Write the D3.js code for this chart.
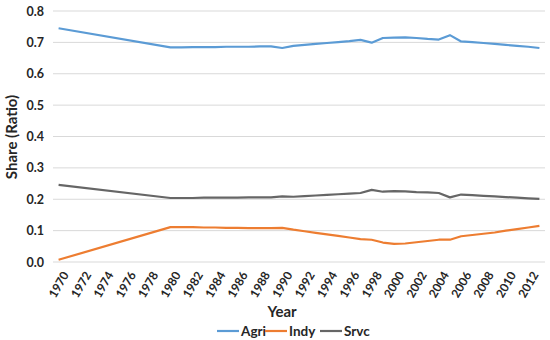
<!DOCTYPE html>
<html>
<head>
<meta charset="utf-8">
<script src="https://cdn.jsdelivr.net/npm/d3@7"></script>
<style>
  body { margin: 0; background: #fff; }
  svg text { font-family: Lato, "Open Sans", sans-serif; }
</style>
</head>
<body>
<svg id="chart" width="550" height="340"></svg>
<script>
// years with data (1970 then annual from 1980)
const years = [1970, 1980, 1981, 1982, 1983, 1984, 1985, 1986, 1987, 1988, 1989,
  1990, 1991, 1992, 1993, 1994, 1995, 1996, 1997, 1998, 1999,
  2000, 2001, 2002, 2003, 2004, 2005, 2006, 2007, 2008, 2009,
  2010, 2011, 2012, 2013];

const agri = [0.745, 0.684, 0.684, 0.685, 0.685, 0.685, 0.686, 0.686, 0.686, 0.687, 0.687,
  0.682, 0.689, 0.692, 0.695, 0.698, 0.701, 0.704, 0.708, 0.699, 0.714,
  0.715, 0.716, 0.714, 0.711, 0.709, 0.723, 0.703, 0.701, 0.698, 0.695,
  0.692, 0.689, 0.686, 0.682];

const indy = [0.007, 0.111, 0.111, 0.111, 0.110, 0.110, 0.109, 0.109, 0.108, 0.108, 0.108,
  0.109, 0.103, 0.098, 0.093, 0.088, 0.083, 0.078, 0.073, 0.071, 0.062,
  0.058, 0.059, 0.063, 0.067, 0.071, 0.071, 0.082, 0.086, 0.090, 0.094,
  0.100, 0.105, 0.110, 0.115];

const srvc = [0.246, 0.204, 0.204, 0.204, 0.205, 0.205, 0.205, 0.205, 0.206, 0.206, 0.206,
  0.209, 0.208, 0.210, 0.212, 0.214, 0.216, 0.218, 0.220, 0.230, 0.224,
  0.226, 0.225, 0.223, 0.222, 0.220, 0.206, 0.215, 0.213, 0.211, 0.209,
  0.207, 0.205, 0.203, 0.201];

const seriesNames = ["Agri", "Indy", "Srvc"];
const seriesColors = ["#5b9bd5", "#ed7d31", "#666666"];
const xTicks = d3.range(1970, 2013, 2);
const yTicks = [0, 0.1, 0.2, 0.3, 0.4, 0.5, 0.6, 0.7, 0.8];

const svg = d3.select("#chart");
const margin = {left: 53, right: 5, top: 11, bottom: 78};
const width = 550, height = 340;

const x = d3.scaleLinear()
  .domain([1969.5, 2013.5])
  .range([margin.left, width - margin.right]);

const y = d3.scaleLinear()
  .domain([0, 0.8])
  .range([height - margin.bottom, margin.top]);

// gridlines
svg.append("g")
  .selectAll("line")
  .data(yTicks)
  .join("line")
    .attr("x1", x.range()[0])
    .attr("x2", x.range()[1])
    .attr("y1", d => y(d))
    .attr("y2", d => y(d))
    .attr("stroke", "#d9d9d9")
    .attr("stroke-width", 1);

// y axis labels
const yAxis = svg.append("g")
  .attr("transform", `translate(${margin.left},0)`)
  .call(d3.axisLeft(y).tickValues(yTicks).tickFormat(d3.format(".1f")).tickSize(0).tickPadding(9));
yAxis.select(".domain").remove();
yAxis.selectAll("text")
  .attr("fill", "#262626")
  .style("font-size", "12.5px")
  .style("font-weight", "bold");

// x axis labels
const xAxis = svg.append("g")
  .attr("transform", `translate(0,${y(0)})`)
  .call(d3.axisBottom(x).tickValues(xTicks).tickFormat(d3.format("d")).tickSize(0));
xAxis.select(".domain").remove();
xAxis.selectAll("text")
  .attr("fill", "#262626")
  .style("font-size", "12px")
  .style("font-weight", "bold")
  .attr("text-anchor", "end")
  .attr("dy", "0.35em")
  .attr("transform", "translate(4,9) rotate(-60)");

// lines
const allSeries = [agri, indy, srvc];
const line = d3.line()
  .x((d, i) => x(years[i]))
  .y(d => y(d));

svg.append("g")
  .selectAll("path")
  .data(allSeries)
  .join("path")
    .attr("d", d => line(d))
    .attr("fill", "none")
    .attr("stroke", (d, i) => seriesColors[i])
    .attr("stroke-width", 2.2)
    .attr("stroke-linejoin", "round");

// axis titles
svg.append("text")
  .attr("x", 282)
  .attr("y", 317)
  .attr("text-anchor", "middle")
  .attr("fill", "#262626")
  .style("font-size", "15px")
  .style("font-weight", "bold")
  .text("Year");

svg.append("text")
  .attr("transform", "translate(17,137) rotate(-90)")
  .attr("text-anchor", "middle")
  .attr("fill", "#262626")
  .style("font-size", "15px")
  .style("font-weight", "bold")
  .text("Share (Ratio)");

// legend
const legendX = [217, 265, 320];
const legend = svg.append("g")
  .selectAll("g")
  .data(seriesNames)
  .join("g")
    .attr("transform", (d, i) => `translate(${legendX[i]},331)`);
legend.append("line")
  .attr("x1", 0).attr("x2", 22)
  .attr("stroke", (d, i) => seriesColors[i])
  .attr("stroke-width", 2.2);
legend.append("text")
  .attr("x", 24)
  .attr("dy", "0.35em")
  .attr("fill", "#262626")
  .style("font-size", "13.5px")
  .style("font-weight", "bold")
  .text(d => d);
</script>
</body>
</html>
